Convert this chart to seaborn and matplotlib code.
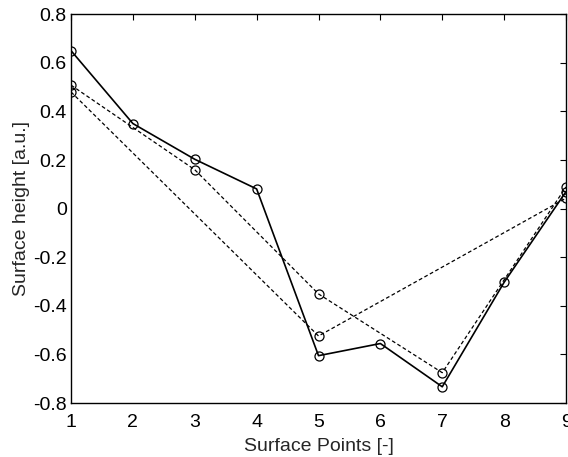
import matplotlib
matplotlib.use("Agg")
import matplotlib.pyplot as plt
import seaborn as sns
import pandas as pd

solid_x = [1, 2, 3, 4, 5, 6, 7, 8, 9]
solid_y = [0.65, 0.35, 0.203, 0.081, -0.605, -0.555, -0.733, -0.303, 0.07]
dashA_x = [1, 3, 5, 7, 9]
dashA_y = [0.508, 0.16, -0.351, -0.675, 0.089]
dashB_x = [1, 5, 9]
dashB_y = [0.48, -0.524, 0.043]

xticks = [1, 2, 3, 4, 5, 6, 7, 8, 9]
yticks = [-0.8, -0.6, -0.4, -0.2, 0, 0.2, 0.4, 0.6, 0.8]
ytick_labels = ["-0.8", "-0.6", "-0.4", "-0.2", "0", "0.2", "0.4", "0.6", "0.8"]

sns.set_style("white")
plt.rcParams['font.family'] = ['Liberation Sans', 'DejaVu Sans']

fig = plt.figure(figsize=(5.68, 4.57), dpi=100)
ax = fig.add_axes([0.125, 0.118, 0.8715, 0.851])

common = dict(marker='o', markersize=6.5, markerfacecolor='none',
              markeredgecolor='black', markeredgewidth=0.9, color='black', ax=ax)
sns.lineplot(x=dashB_x, y=dashB_y, linestyle=(0, (3, 2)), linewidth=0.9, **common)
sns.lineplot(x=dashA_x, y=dashA_y, linestyle=(0, (3, 2)), linewidth=0.9, **common)
sns.lineplot(x=solid_x, y=solid_y, linestyle='-', linewidth=1.2, **common)

ax.set_xlim(1, 9)
ax.set_ylim(-0.8, 0.8)
ax.set_xticks(xticks)
ax.set_xticklabels([str(t) for t in xticks])
ax.set_yticks(yticks)
ax.set_yticklabels(ytick_labels)
ax.tick_params(direction='in', length=4, width=0.8, top=True, right=True,
               labelsize=14, colors='black')
ax.tick_params(axis='x', pad=8)
ax.tick_params(axis='y', pad=3)
for s in ax.spines.values():
    s.set_color('black')
    s.set_linewidth(1.0)
ax.set_xlabel("Surface Points [-]", fontsize=14, labelpad=5)
ax.set_ylabel("Surface height [a.u.]", fontsize=14, labelpad=2)

fig.savefig("out.png", dpi=100)
